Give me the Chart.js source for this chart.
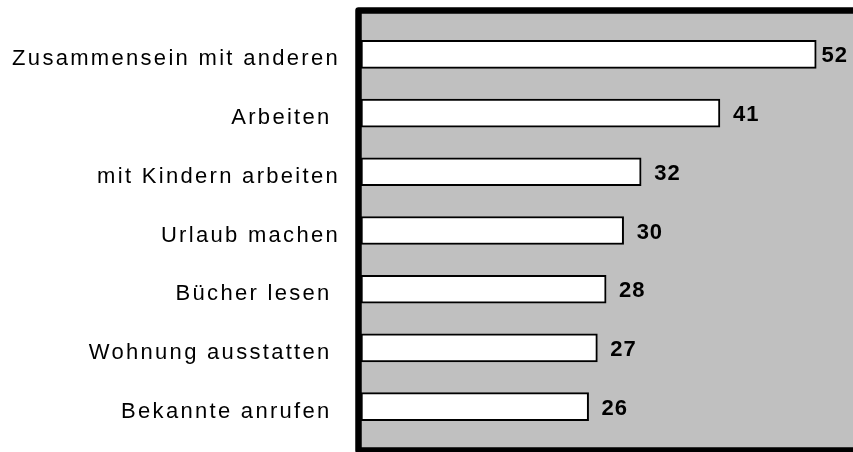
<!DOCTYPE html>
<html>
<head>
<meta charset="utf-8">
<script src="https://cdn.jsdelivr.net/npm/chart.js@4"></script>
<style>
  html, body { margin: 0; background: #fff; }
  #wrap { width: 853px; height: 452px; }
</style>
</head>
<body>
<div id="wrap"><canvas id="chart"></canvas></div>
<script>
// activities, top to bottom
const categories = [
  "Zusammensein mit anderen",
  "Arbeiten ",
  "mit Kindern arbeiten",
  "Urlaub machen",
  "Bücher lesen ",
  "Wohnung ausstatten ",
  "Bekannte anrufen "
];
const values = [52, 41, 32, 30, 28, 27, 26];
const xMin = 0;
const xMax = 56.2;

// gray panel with the heavy black frame behind the bars
const framePlugin = {
  id: "frame",
  beforeDraw(chart) {
    const { ctx, chartArea } = chart;
    const left = chartArea.left - 2.5;
    const top = chartArea.top - 14.6;
    const bottom = chartArea.bottom + 14.4;
    ctx.save();
    ctx.fillStyle = "#c0c0c0";
    ctx.fillRect(left, top, chart.width + 20 - left, bottom - top);
    ctx.strokeStyle = "#000";
    ctx.lineWidth = 6.5;
    ctx.lineJoin = "round";
    ctx.strokeRect(left, top, chart.width + 20 - left, bottom - top);
    ctx.restore();
    // wide spacing for the category labels
    ctx.letterSpacing = "2.3px";
  },
  afterDraw(chart) {
    chart.ctx.letterSpacing = "0px";
  }
};

// value next to each bar end
const valueLabels = {
  id: "valueLabels",
  afterDatasetsDraw(chart) {
    const { ctx } = chart;
    const meta = chart.getDatasetMeta(0);
    ctx.save();
    ctx.letterSpacing = "1px";
    ctx.font = "bold 22px 'Liberation Sans', Arial, sans-serif";
    ctx.fillStyle = "#000";
    ctx.textAlign = "left";
    ctx.textBaseline = "middle";
    meta.data.forEach((bar, i) => {
      const txt = String(values[i]);
      const w = ctx.measureText(txt).width;
      const x = Math.min(bar.x + 13, chart.width - w - 5);
      ctx.fillText(txt, x, bar.y + 2);
    });
    ctx.restore();
  }
};

new Chart(document.getElementById("chart"), {
  type: "bar",
  data: {
    labels: categories,
    datasets: [{
      data: values,
      backgroundColor: "#ffffff",
      borderColor: "#000000",
      borderWidth: 2,
      borderSkipped: false,
      barThickness: 28
    }]
  },
  options: {
    indexAxis: "y",
    responsive: true,
    maintainAspectRatio: false,
    animation: false,
    layout: { padding: { top: 25, bottom: 16, left: 0, right: 0 } },
    plugins: {
      legend: { display: false },
      tooltip: { enabled: false }
    },
    scales: {
      x: {
        display: false,
        min: xMin,
        max: xMax
      },
      y: {
        afterFit(scale) {
          scale.width = 361;
          scale.paddingTop = 0;
          scale.paddingBottom = 0;
        },
        grid: { display: false, drawTicks: false },
        border: { display: false },
        ticks: {
          color: "#000",
          padding: 21,
          labelOffset: 5,
          font: { family: "'Liberation Sans', Arial, sans-serif", size: 22 }
        }
      }
    }
  },
  plugins: [framePlugin, valueLabels]
});
</script>
</body>
</html>
